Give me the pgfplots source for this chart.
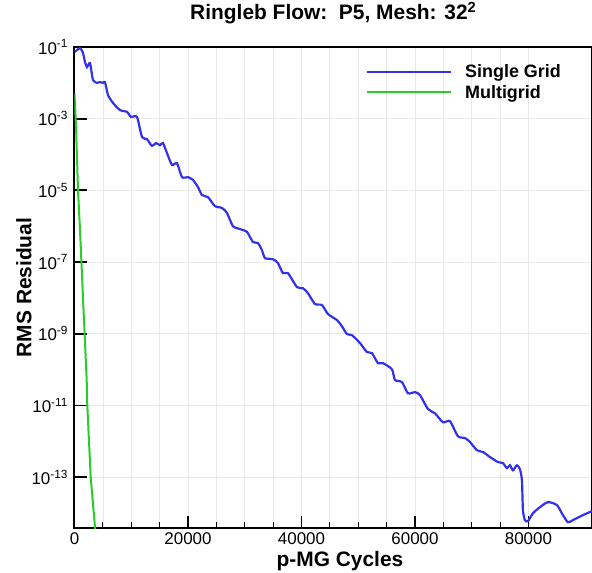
\documentclass[border=0pt]{standalone}
\usepackage{fontspec}
\setmainfont{Liberation Sans}
\usepackage{pgfplots}
\pgfplotsset{compat=1.18}
\usetikzlibrary{calc}
\definecolor{sgblue}{RGB}{50,50,235}
\definecolor{mggreen}{RGB}{40,205,40}
\begin{document}
\begin{tikzpicture}
\begin{axis}[
  name=ax,
  scale only axis,
  width=517.5bp, height=481bp,
  xmin=0, xmax=91200,
  ymode=log, ymin=3.8e-15, ymax=0.1,
  xtick={0,20000,40000,60000,80000},
  minor x tick num=3,
  ytick={1e-13,1e-11,1e-9,1e-7,1e-5,1e-3,1e-1},
  yticklabels={10\textsuperscript{-13},10\textsuperscript{-11},10\textsuperscript{-9},10\textsuperscript{-7},10\textsuperscript{-5},10\textsuperscript{-3},10\textsuperscript{-1}},
  yminorticks=false,
  scaled x ticks=false,
  /pgf/number format/.cd, set thousands separator={}, assume math mode=true,
  /pgfplots/.cd,
  tick pos=left,
  tick align=inside,
  major tick length=12bp,
  minor tick length=6bp,
  major tick style={line width=1.8bp, black},
  minor tick style={line width=1bp, black},
  xmajorgrids, xminorgrids, ymajorgrids,
  major grid style={line width=0.7bp, black!9},
  minor grid style={line width=0.7bp, black!9},
  axis line style={line width=2bp, black},
  ticklabel style={font=\fontsize{17}{20}\selectfont},
  yticklabel style={xshift=-3bp},
  xticklabel style={yshift=-1bp},
  xlabel={p-MG Cycles},
  ylabel={RMS Residual},
  xlabel style={font=\fontsize{21}{25}\selectfont\bfseries, at={(axis description cs:0.513,-0.0686)}, anchor=center},
  ylabel style={font=\fontsize{21}{25}\selectfont\bfseries, at={(axis description cs:-0.0976,0.5)}, anchor=center},
  title={Ringleb Flow:\ \ P5, Mesh: 32\textsuperscript{2}},
  title style={font=\fontsize{21}{25}\selectfont\bfseries, at={(axis description cs:0.5,1.044)}, anchor=base},
  legend style={draw=none, fill=none, inner sep=0pt, at={(axis description cs:0.563,0.968)}, anchor=north west,
    font=\fontsize{18}{21}\selectfont\bfseries, row sep=2bp, nodes={inner sep=2bp}},
  legend cell align=left,
  legend image code/.code={\draw[#1] (0bp,0bp) -- (84bp,0bp); \path[draw=none] (0bp,0bp) -- (96bp,0bp);},
]
\addplot[sgblue, line width=2.2bp, smooth, tension=0.4] coordinates {
(0,7.2e-2) (969,9.3e-2) (1498,6.8e-2) (1850,3.8e-2) (2203,2.75e-2) (2731,3.55e-2)
(3260,1.2e-2) (3965,1.0e-2) (4493,1.05e-2) (5022,1.0e-2) (5374,1.05e-2) (5903,4.57e-3)
(6784,2.75e-3) (8017,1.74e-3) (9251,1.55e-3) (9955,1.12e-3) (11013,1.12e-3) (11894,3.09e-4)
(12775,2.69e-4) (13656,1.74e-4) (14360,2.09e-4) (15065,1.82e-4) (15594,2.09e-4) (16298,1.10e-4)
(17180,5.13e-5) (18061,5.75e-5) (18942,2.34e-5) (19999,2.34e-5) (20880,1.95e-5) (21761,1.23e-5)
(22466,7.41e-6) (23523,6.46e-6) (24756,3.63e-6) (25990,3.24e-6) (26871,2.34e-6) (27928,1.0e-6)
(29161,8.32e-7) (30395,6.92e-7) (31452,3.63e-7) (32333,3.39e-7) (33038,2.14e-7) (33566,1.29e-7)
(34976,1.20e-7) (35857,9.33e-8) (36738,4.90e-8) (37619,4.90e-8) (39205,2.0e-8) (40262,1.86e-8)
(41143,1.35e-8) (42377,6.76e-9) (43610,6.31e-9) (44667,3.55e-9) (46253,2.40e-9) (47134,1.62e-9)
(48015,9.77e-10) (48896,9.12e-10) (50306,5.50e-10) (51539,3.09e-10) (52420,2.88e-10) (53478,1.51e-10)
(54359,1.51e-10) (55945,1.02e-10) (56473,5.13e-11) (57707,4.47e-11) (58764,2.19e-11) (59998,2.34e-11)
(60879,1.95e-11) (62289,7.94e-12) (63522,6.03e-12) (64932,3.39e-12) (66165,3.63e-12) (67575,1.38e-12)
(68808,1.23e-12) (69689,9.55e-13) (70923,5.62e-13) (71980,5.01e-13) (73214,3.63e-13) (74623,2.63e-13)
(75504,2.45e-13) (76209,1.78e-13) (76738,2.14e-13) (77266,1.55e-13) (77971,2.14e-13) (78500,1.66e-13)
(78852,8.13e-14) (79028,1.20e-14) (79380,6.31e-15) (79909,5.89e-15) (80790,9.77e-15) (82023,1.45e-14)
(83433,2.0e-14) (85019,1.66e-14) (86076,8.71e-15) (86957,5.50e-15) (87838,6.31e-15) (89600,8.71e-15)
(91186,1.12e-14)
};
\addlegendentry{Single Grid}
\addplot[mggreen, line width=2bp] coordinates {
(0,5.0e-3) (264,6.3e-4) (617,1.0e-5) (969,7.9e-7) (1500,1.0e-8) (2150,5.0e-11)
(2255,1.0e-11) (2855,1.0e-13) (3612,4.0e-15) (3900,1.0e-15)
};
\addlegendentry{Multigrid}
\end{axis}
\pgfresetboundingbox
\path[use as bounding box] ($(ax.south west)+(-74.5bp,-45bp)$) rectangle ($(ax.north east)+(0bp,47bp)$);
\end{tikzpicture}
\end{document}
